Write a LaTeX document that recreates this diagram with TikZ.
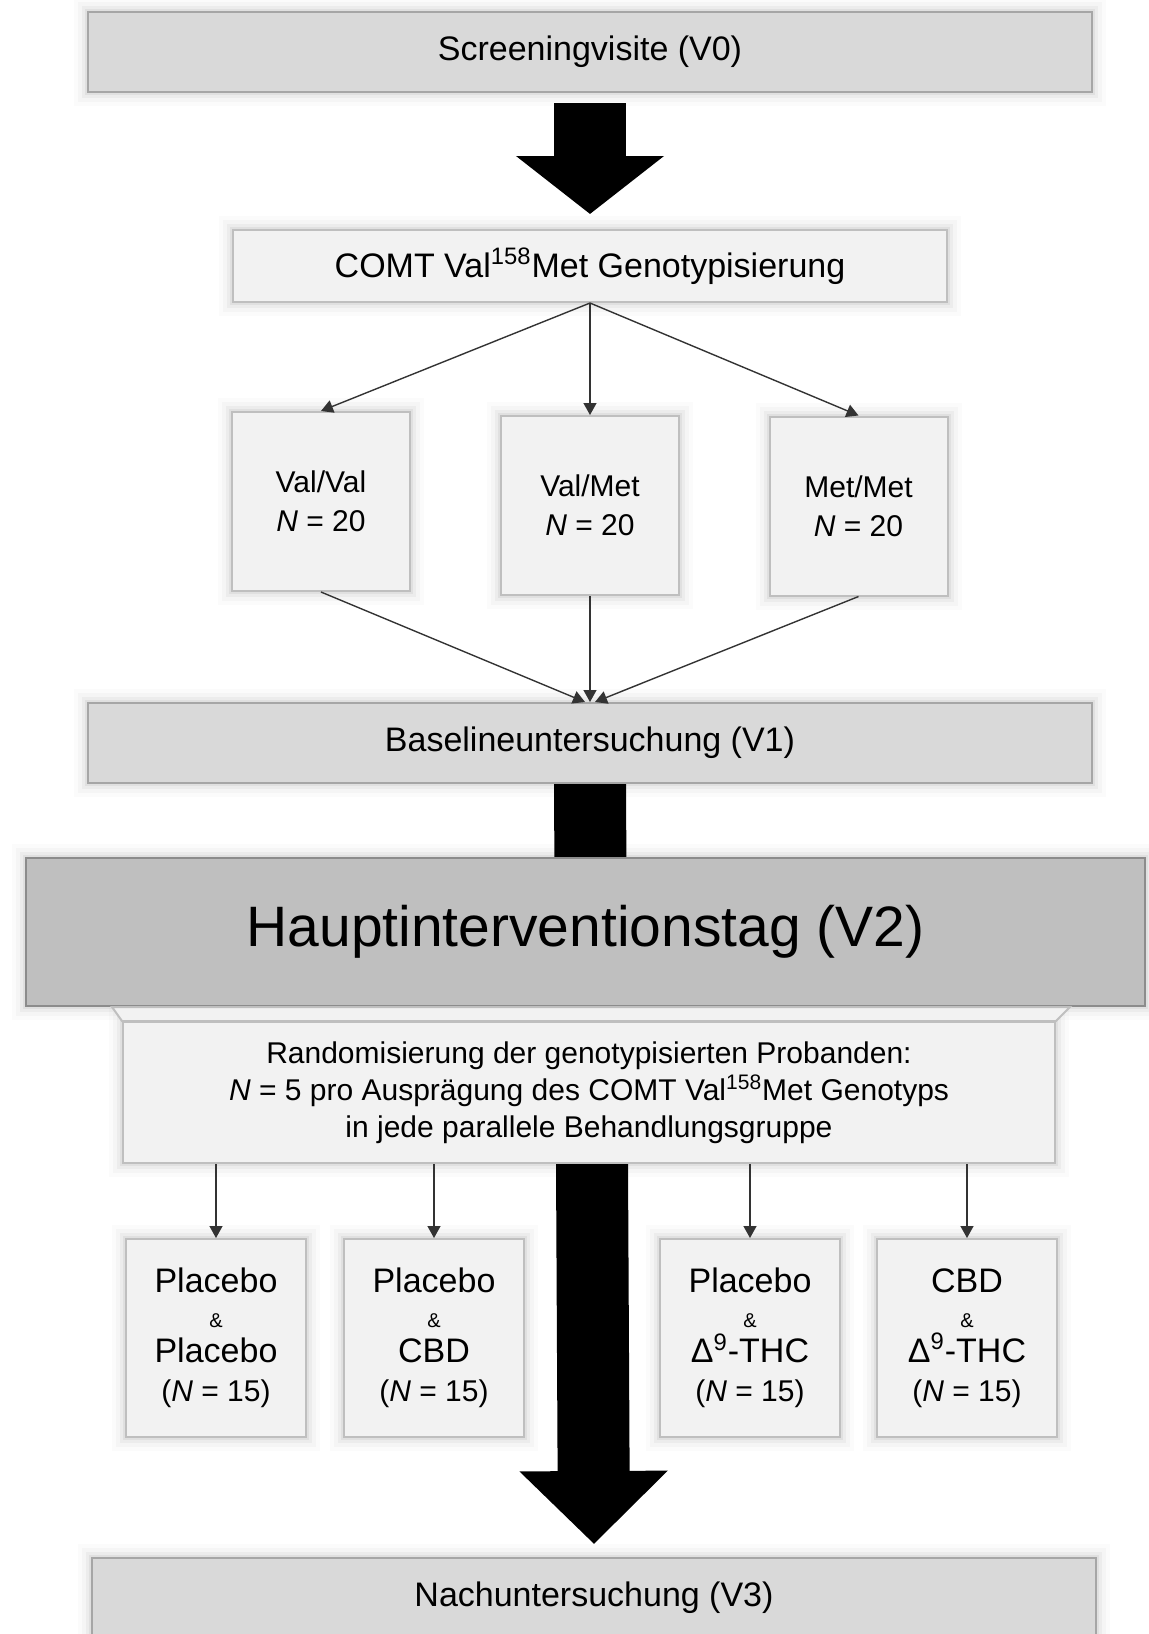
\documentclass[tikz,border=0pt]{standalone}
\usepackage{fontspec}
\setmainfont{Liberation Sans}
\usetikzlibrary{arrows.meta,backgrounds}

\definecolor{visitfill}{HTML}{D9D9D9}
\definecolor{visitline}{HTML}{A6A6A6}
\definecolor{groupfill}{HTML}{F2F2F2}
\definecolor{groupline}{HTML}{BFBFBF}
\definecolor{mainfill}{HTML}{BFBFBF}
\definecolor{mainline}{HTML}{8C8C8C}

\newcommand{\und}{{\fontsize{10}{10}\selectfont\&}}
\newcommand{\nfuenf}{{\fontsize{15}{15}\selectfont(\textit{N} = 15)}}

\tikzset{
  halo/.style={preaction={draw=black,draw opacity=.015,line width=14pt},
               preaction={draw=black,draw opacity=.025,line width=10pt},
               preaction={draw=black,draw opacity=.035,line width=6pt},
               preaction={draw=black,draw opacity=.05,line width=3pt}},
  visit/.style={halo, draw=visitline, fill=visitfill, line width=1pt,
                minimum width=502pt, minimum height=40pt,
                font=\fontsize{17}{20}\selectfont},
  group/.style={halo, draw=groupline, fill=groupfill, line width=1pt, align=center},
  geno/.style={group, minimum width=89pt, minimum height=89.5pt,
               font=\fontsize{15}{19.5}\selectfont},
  arm/.style={group, minimum width=90pt, minimum height=99pt,
              font=\fontsize{17}{17.5}\selectfont},
  pfeil/.style={-{Triangle[length=6pt,width=6.5pt]}, draw=black!80, line width=.7pt},
  fatarrow/.style={line width=36pt}
}

\begin{document}
\begin{tikzpicture}[x=0.5pt,y=-0.5pt]
    \useasboundingbox (0,0) rectangle (1149,1634);

    % Visiten
    \node[visit] (screen) at (590,52) {Screeningvisite (V0)};
    \node[group, minimum width=357pt, minimum height=36pt,
          font=\fontsize{17}{20}\selectfont] (comt) at (590,266)
          {COMT Val\textsuperscript{158}Met Genotypisierung};

    % Genotypen
    \node[geno] (valval) at (321,501.5) {Val/Val\\\textit{N} = 20};
    \node[geno] (valmet) at (590,505.5) {Val/Met\\\textit{N} = 20};
    \node[geno] (metmet) at (858.5,506) {Met/Met\\\textit{N} = 20};

    \node[visit] (baseline) at (590,743) {Baselineuntersuchung (V1)};
    \node[halo, draw=mainline, fill=mainfill, line width=1pt,
          minimum width=559.5pt, minimum height=74pt,
          font=\fontsize{28.5}{32}\selectfont] (haupt) at (585.5,932)
          {Hauptinterventionstag (V2)};
    \node[group, minimum width=466pt, minimum height=70.5pt,
          font=\fontsize{15}{18.5}\selectfont] (random) at (589,1092.5)
          {Randomisierung der genotypisierten Probanden:\\
           \textit{N} = 5 pro Ausprägung des COMT Val\textsuperscript{158}Met Genotyps\\
           in jede parallele Behandlungsgruppe};
    \filldraw[fill=groupfill, draw=groupline, line width=1pt]
        ([xshift=-5pt]random.north west |- haupt.south)
        -- ([xshift=7pt]random.north east |- haupt.south)
        -- (random.north east) -- (random.north west) -- cycle;

    % Behandlungsgruppen
    \node[arm] (arm1) at (216,1338) {Placebo\\\und\\Placebo\\[2pt]\nfuenf};
    \node[arm] (arm2) at (434,1338) {Placebo\\\und\\CBD\\[2pt]\nfuenf};
    \node[arm] (arm3) at (750,1338) {Placebo\\\und\\Δ\textsuperscript{9}-THC\\[2pt]\nfuenf};
    \node[arm] (arm4) at (967,1338) {CBD\\\und\\Δ\textsuperscript{9}-THC\\[2pt]\nfuenf};

    \node[visit] (nach) at (594,1598) {Nachuntersuchung (V3)};

    % Pfeile
    \draw[fatarrow, -{Triangle[length=29pt,width=72.5pt]}]
        ([yshift=-5pt]screen.south) -- ([yshift=7.5pt]comt.north);
    \begin{scope}[on background layer]
        \draw[fatarrow, -{Triangle[length=36.5pt,width=72pt]}]
            (baseline.south) -- ([yshift=6.5pt]nach.north);
    \end{scope}

    \foreach \g in {valval,valmet,metmet}
        \draw[pfeil] (comt.south) -- (\g.north);
    \draw[pfeil] (valval.south) -- ([xshift=-2.5pt]baseline.north);
    \draw[pfeil] (valmet.south) -- (baseline.north);
    \draw[pfeil] (metmet.south) -- ([xshift=2.5pt]baseline.north);
    \foreach \a in {arm1,arm2,arm3,arm4}
        \draw[pfeil] (\a.north |- random.south) -- (\a.north);
\end{tikzpicture}
\end{document}
